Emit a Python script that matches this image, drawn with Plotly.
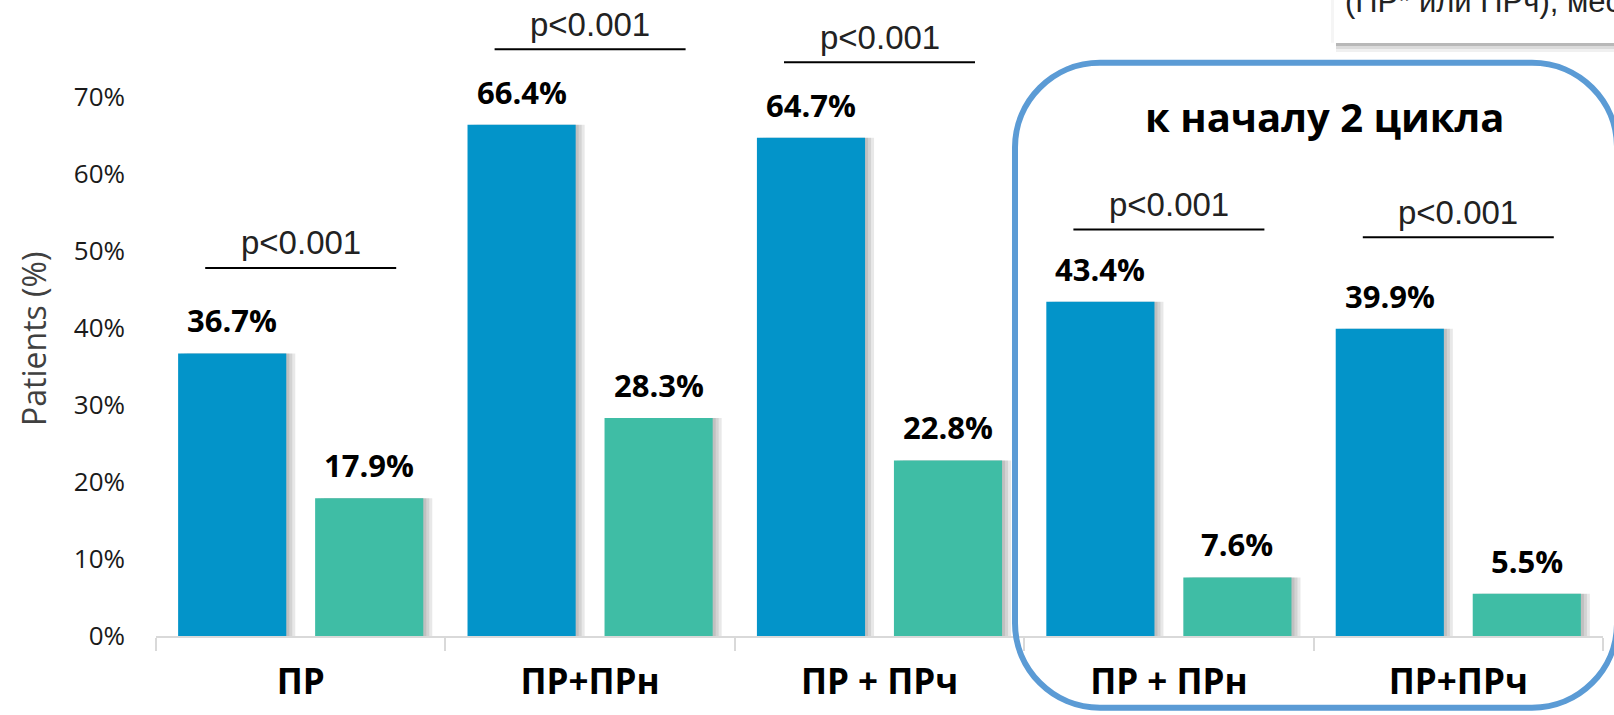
import plotly.graph_objects as go

categories = ["ПР", "ПР+ПРн", "ПР + ПРч", "ПР + ПРн", "ПР+ПРч"]
series_a = [36.7, 66.4, 64.7, 43.4, 39.9]
series_b = [17.9, 28.3, 22.8, 7.6, 5.5]
p_texts = ["p<0.001", "p<0.001", "p<0.001", "p<0.001", "p<0.001"]
p_levels = [47.8, 76.2, 74.5, 52.8, 51.8]
y_ticks = [0, 10, 20, 30, 40, 50, 60, 70]
y_ticklabels = ["0%", "10%", "20%", "30%", "40%", "50%", "60%", "70%"]
box_title = "к началу 2 цикла"
corner_text = "(ПР* или ПРч), мес"

W, H = 1614, 715
ML, MR, MT, MB = 156, 11, 20, 77
PW, PH = W - ML - MR, H - MT - MB
CAT_PX = PW / len(categories)

BLUE = "#0394C9"
TEAL = "#3FBDA5"
FRAME = "#5B9BD5"

def px_x(px):
    return (px - ML) / PW

def px_y(py):
    return (H - MB - py) / PH

bar_w = 0.3737
center_off = 0.2367
off_a = -center_off - bar_w / 2
off_b = center_off - bar_w / 2

fig = go.Figure()

# soft shadows
for shift in (3, 6, 9):
    d = shift / CAT_PX
    for vals, off in ((series_a, off_a), (series_b, off_b)):
        fig.add_trace(go.Bar(x=categories, y=vals, width=bar_w, offset=off + d,
                             marker=dict(color="rgba(0,0,0,0.09)", line=dict(width=0)),
                             showlegend=False, hoverinfo="skip"))

fig.add_trace(go.Bar(x=categories, y=series_a, width=bar_w, offset=off_a,
                     marker=dict(color=BLUE, line=dict(width=0)), showlegend=False))
fig.add_trace(go.Bar(x=categories, y=series_b, width=bar_w, offset=off_b,
                     marker=dict(color=TEAL, line=dict(width=0)), showlegend=False))

annotations = []
shapes = []
lab_font = dict(family="Open Sans", size=31, color="black", weight="bold")
for i, (a, b) in enumerate(zip(series_a, series_b)):
    annotations.append(dict(x=i - center_off, y=a, xref="x", yref="y", text=f"<b>{a:.1f}%</b>",
                            showarrow=False, yanchor="middle", yshift=33, font=lab_font))
    annotations.append(dict(x=i + center_off, y=b, xref="x", yref="y", text=f"<b>{b:.1f}%</b>",
                            showarrow=False, yanchor="middle", yshift=33, font=lab_font))
    lvl = p_levels[i]
    shapes.append(dict(type="line", xref="x", yref="y", x0=i - 0.33, x1=i + 0.33, y0=lvl, y1=lvl,
                       line=dict(color="black", width=2)))
    annotations.append(dict(x=i, y=lvl, xref="x", yref="y", text=p_texts[i], showarrow=False,
                            yanchor="middle", yshift=25,
                            font=dict(family="Liberation Sans", size=33, color="#222222")))

# rounded frame
x0, x1, y0, y1, R = 1015, 1617, 63, 710, 85
k = 0.5523 * R
def P(x, y):
    return f"{px_x(x):.5f},{px_y(y):.5f}"
path = (f"M {P(x0+R, y0)} L {P(x1-R, y0)} C {P(x1-R+k, y0)} {P(x1, y0+R-k)} {P(x1, y0+R)} "
        f"L {P(x1, y1-R)} C {P(x1, y1-R+k)} {P(x1-R+k, y1)} {P(x1-R, y1)} "
        f"L {P(x0+R, y1)} C {P(x0+R-k, y1)} {P(x0, y1-R+k)} {P(x0, y1-R)} "
        f"L {P(x0, y0+R)} C {P(x0, y0+R-k)} {P(x0+R-k, y0)} {P(x0+R, y0)} Z")
shapes.append(dict(type="path", xref="paper", yref="paper", path=path,
                   line=dict(color=FRAME, width=6), layer="above"))

# top-right cut-off box with shadow
for (ya, yb, alpha) in ((43, 46, 0.28), (46, 49, 0.14), (49, 52, 0.06)):
    shapes.append(dict(type="rect", xref="paper", yref="paper", x0=px_x(1336), x1=px_x(1630),
                       y0=px_y(yb), y1=px_y(ya), fillcolor=f"rgba(0,0,0,{alpha})", line=dict(width=0)))
shapes.append(dict(type="rect", xref="paper", yref="paper", x0=px_x(1331), x1=px_x(1334),
                   y0=px_y(43), y1=px_y(-5), fillcolor="rgba(0,0,0,0.04)", line=dict(width=0)))
shapes.append(dict(type="rect", xref="paper", yref="paper", x0=px_x(1334), x1=px_x(1630),
                   y0=px_y(43), y1=px_y(-5), fillcolor="white", line=dict(width=0)))
annotations.append(dict(x=px_x(1343), y=px_y(1), xref="paper", yref="paper", text=corner_text,
                        showarrow=False, xanchor="left", yanchor="middle",
                        font=dict(family="Liberation Sans", size=31, color="#222222")))

annotations.append(dict(x=px_x(1324), y=px_y(117), xref="paper", yref="paper", text=f"<b>{box_title}</b>",
                        showarrow=False, xanchor="center", yanchor="middle",
                        font=dict(family="Open Sans", size=40, color="black")))

annotations.append(dict(x=px_x(34), y=px_y(340), xref="paper", yref="paper", text="Patients (%)",
                        showarrow=False, textangle=-90, xanchor="center", yanchor="middle",
                        font=dict(family="Open Sans", size=32, color="#404040")))

fig.update_layout(
    width=W, height=H, barmode="overlay",
    margin=dict(l=ML, r=MR, t=MT, b=MB),
    paper_bgcolor="white", plot_bgcolor="white",
    annotations=annotations, shapes=shapes,
    xaxis=dict(type="category", range=[-0.5, 4.5], showline=True, linecolor="#D9D9D9", linewidth=1.5,
               ticks="outside", tickson="boundaries", ticklen=13, tickcolor="#D9D9D9", tickwidth=1.5,
               showgrid=False, ticklabelstandoff=14,
               tickfont=dict(family="Open Sans", size=35, color="black", weight="bold")),
    yaxis=dict(range=[0, 80], tickvals=y_ticks, ticktext=y_ticklabels, showgrid=False,
               zeroline=False, showline=False, ticks="", ticklabelstandoff=30,
               tickfont=dict(family="Open Sans", size=26, color="#1a1a1a")),
)

fig.write_html("out.html")
